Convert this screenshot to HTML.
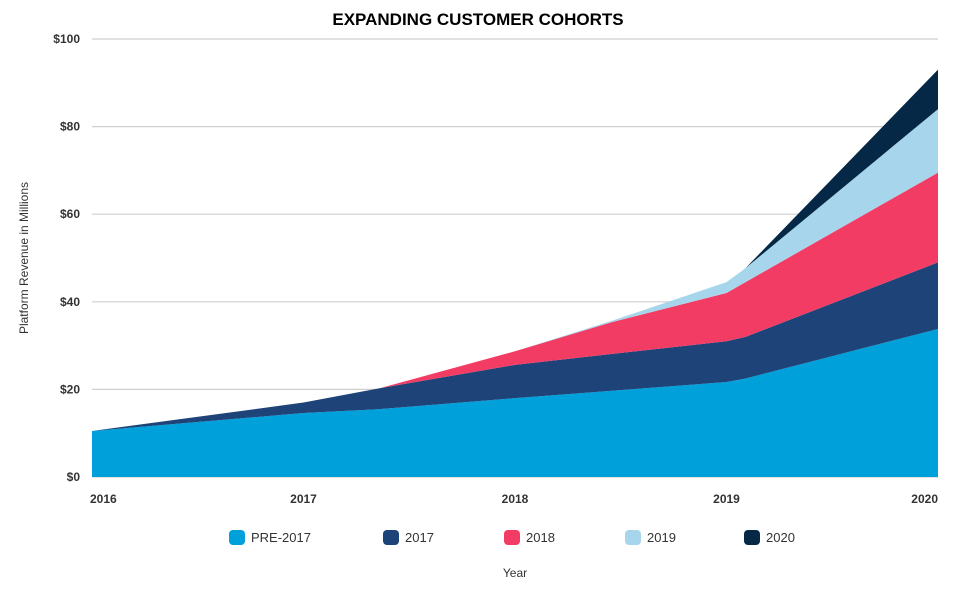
<!DOCTYPE html>
<html><head><meta charset="utf-8"><style>
body{margin:0;background:#fff;font-family:"Liberation Sans",sans-serif}
svg text{font-family:"Liberation Sans",sans-serif}
</style></head><body>
<svg id="chart" width="957" height="585">
<text x="478" y="25" text-anchor="middle" font-size="17" font-weight="bold" fill="#000">EXPANDING CUSTOMER COHORTS</text>
<g id="grid"></g><g id="areas"></g><g id="axes"></g><g id="legend"></g>
<text transform="translate(28,258) rotate(-90)" text-anchor="middle" font-size="12" fill="#333">Platform Revenue in Millions</text>
<text x="515" y="577" text-anchor="middle" font-size="12" fill="#333">Year</text>
</svg>
<script>
const xs=[2016,2017,2017.363,2018,2018.46,2019,2019.09,2020];
const pre2017=[10.5,14.6,15.5,18,19.7,21.7,22.5,33.8];
const c2017=[0,2.4,4.8,7.6,8.4,9.3,9.5,15.2];
const c2018=[0,0,0,3.1,7.3,11,12.5,20.5];
const c2019=[0,0,0,0,0.3,2.5,3.2,14.5];
const c2020=[0,0,0,0,0,0,0,9];
const seriesNames=["PRE-2017","2017","2018","2019","2020"];
const colors=["#00a0db","#1d4378","#f23c64","#a7d6ec","#062847"];
const yTicks=[0,20,40,60,80,100];
const xTicks=[2016,2017,2018,2019,2020];
const NS="http://www.w3.org/2000/svg";
const X=v=>92+(v-2016)*(938-92)/4;
const Y=v=>477-v*4.38;
function mk(t,a,p){const e=document.createElementNS(NS,t);for(const k in a)e.setAttribute(k,a[k]);p.appendChild(e);return e;}
const grid=document.getElementById('grid'),axes=document.getElementById('axes'),areas=document.getElementById('areas'),legend=document.getElementById('legend');
yTicks.forEach(t=>{
 const l=mk('line',{x1:92,x2:938,y1:Y(t),y2:Y(t),stroke:'#cfcfcf','stroke-width':1.2},grid);
 
 
 const tx=mk('text',{x:80,y:Y(t)+4,'text-anchor':'end','font-size':12,fill:'#333','font-weight':'bold'},axes);
 tx.textContent='$'+t;
 
 
});
xTicks.forEach((t,i)=>{
 const anchor=i==0?'start':(i==xTicks.length-1?'end':'middle');
 const tx=mk('text',{x:X(t)+(i==0?-2:0),y:503,'text-anchor':anchor,'font-size':12,fill:'#333','font-weight':'bold'},axes);
 tx.textContent=t;
 
 
});
const series=[pre2017,c2017,c2018,c2019,c2020];
let base=xs.map(()=>0);
series.forEach((s,si)=>{
 const top=base.map((b,i)=>b+s[i]);
 let d='M'+xs.map((x,i)=>X(x)+','+Y(top[i])).join('L');
 for(let i=xs.length-1;i>=0;i--)d+='L'+X(xs[i])+','+Y(base[i]);
 d+='Z';
 const p=mk('path',{d:d,fill:colors[si]},areas);
 
 
 base=top;
});
const lx=[229,383,504,625,744];
seriesNames.forEach((n,i)=>{
 const g=mk('g',{},legend);
 
 
 mk('rect',{x:lx[i],y:530,width:16,height:15,rx:4,fill:colors[i]},g);
 const t=mk('text',{x:lx[i]+22,y:542,'font-size':13,fill:'#333'},g);
 t.textContent=n;
});
</script>
</body></html>
